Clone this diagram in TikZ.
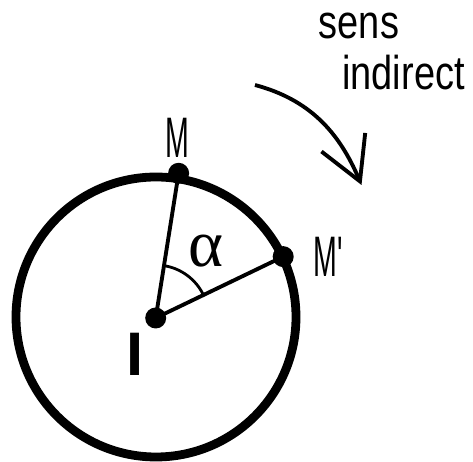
\documentclass[tikz,border=0pt]{standalone}
\usepackage{fontspec}
\newfontfamily\narrowfont{Liberation Sans}[FakeStretch=0.8]
\newfontfamily\slimfont{Liberation Sans}[FakeStretch=0.5]
\newfontfamily\plainfont{Liberation Sans}
\newfontfamily\greekfont{Liberation Serif}
\usepackage{tikz}
\usetikzlibrary{arrows.meta,positioning,calc}
\tikzset{
  pointdot/.style={circle,fill,inner sep=0pt,minimum size=4.2mm},
  wordlbl/.style={inner sep=0pt,anchor=base,font=\narrowfont\fontsize{27}{30}\selectfont},
  ptlbl/.style={inner sep=0pt,anchor=base,font=\slimfont\fontsize{32.5}{36}\selectfont}
}
\begin{document}
\begin{tikzpicture}[>={Straight Barb[length=8.5mm,width=9.5mm]}]
\useasboundingbox (0,0) rectangle (9.46,9.24);
\coordinate (c) at (3.12,2.9);
\coordinate (i) at (3.114,2.88);
\coordinate (m) at ($(i)+(81:2.93)$);
\coordinate (mp) at ($(i)+(25.7:2.83)$);
\draw[line width=5pt] (c) circle (2.8);
\draw[line width=2.2pt] (i) -- (m);
\draw[line width=2.2pt] (i) -- (mp);
\draw[line width=1.6pt] ($(i)+(25.7:1.06)$) arc[start angle=25.7,end angle=81,radius=1.06];
\node[pointdot] (di) at (i) {};
\node[pointdot] (dm) at (m) {};
\node[pointdot] (dmp) at (mp) {};
\node[ptlbl] (lm) at (3.54,6.08) {M};
\node[ptlbl] (lmp) at (6.56,3.71) {M'};
\node[inner sep=0pt,anchor=base,font=\plainfont\bfseries\fontsize{35}{40}\selectfont] (li) at (2.70,1.72) {I};
\node[inner sep=0pt,font=\greekfont\fontsize{38}{42}\selectfont] (la) at (4.11,4.21) {α};
\node[wordlbl] (sens) at (7.18,8.47) {sens};
\node[wordlbl] (indir) at (8.07,7.44) {indirect};
\coordinate (as) at (5.1,7.54);
\coordinate (ae) at (7.23,5.54);
\draw[->,line width=2.2pt] (as) to[out=-15,in=113] (ae);
\end{tikzpicture}
\end{document}
